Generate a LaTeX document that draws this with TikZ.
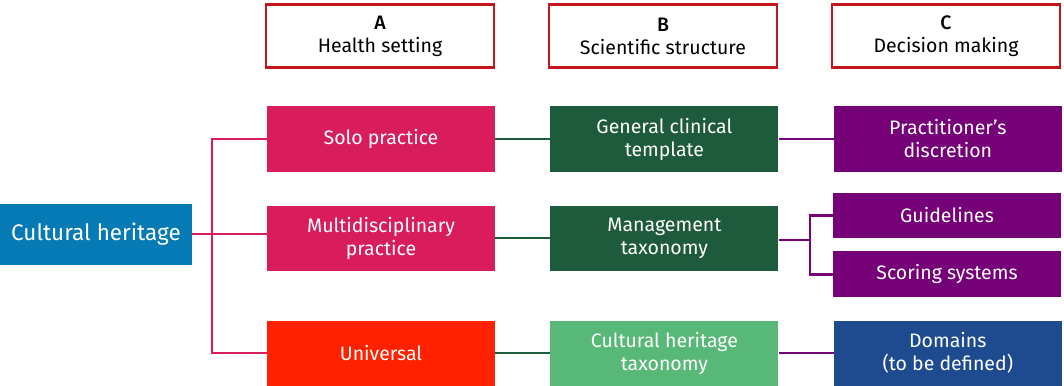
\documentclass[tikz,border=0pt]{standalone}
\usepackage{fontspec}
\setmainfont{Fira Sans}[BoldFont=* Medium]
\usepackage{tikz}
\usetikzlibrary{positioning, calc}
\usepackage{xcolor}
\definecolor{hdred}{HTML}{C4161C}
\definecolor{heritageblue}{HTML}{067AB4}
\definecolor{settingpink}{HTML}{D91C5C}
\definecolor{universalred}{HTML}{FF2100}
\definecolor{structgreen}{HTML}{1E5A3C}
\definecolor{lightgreen}{HTML}{57B877}
\definecolor{decpurple}{HTML}{750078}
\definecolor{domainblue}{HTML}{1E4B8F}

\begin{document}
\begin{tikzpicture}[x=1pt, y=-1pt, node distance=55pt and 55pt,
  every node/.style={
    rectangle, align=center, inner sep=0pt,
    minimum width=228pt, minimum height=65pt, text=white,
    font=\fontsize{19.5}{23}\selectfont
  },
  headbox/.style={draw=hdred, line width=2.5pt, fill=white, text=black,
    minimum width=228pt, minimum height=63pt},
  pinkbox/.style={fill=settingpink},
  greenbox/.style={fill=structgreen},
  purplebox/.style={fill=decpurple},
  pinkline/.style={draw=settingpink, line width=2.5pt},
  greenline/.style={draw=structgreen, line width=2.5pt},
  purpleline/.style={draw=decpurple, line width=2.5pt}]
\useasboundingbox (0,0) rectangle (1064,385);
% column headers
\node[headbox] (hA) at (380,36) {\textbf{A}\\Health setting};
\node[headbox] (hB) at (663,36) {\textbf{B}\\Scientific structure};
\node[headbox] (hC) at (946,36) {\textbf{C}\\Decision making};
% root
\node[fill=heritageblue, minimum width=192pt, minimum height=61pt,
  font=\fontsize{22.5}{27}\selectfont] (heritage) at (96,234) {Cultural heritage};
% health setting
\node[pinkbox] (solo) at (381,139) {Solo practice};
\node[pinkbox] (multi) at (381,238) {Multidisciplinary\\practice};
\node[fill=universalred] (universal) at (381,353) {Universal};
% scientific structure
\node[greenbox, right=of solo] (general) {General clinical\\template};
\node[greenbox, right=of multi] (management) {Management\\taxonomy};
\node[fill=lightgreen, right=of universal] (taxonomy) {Cultural heritage\\taxonomy};
% decision making
\node[purplebox, right=of general] (discretion) {Practitioner’s\\discretion};
\node[purplebox, minimum height=45pt] (guidelines) at (947,215.5) {Guidelines};
\node[purplebox, minimum height=46pt, below=13pt of guidelines] (scoring) {Scoring systems};
\node[fill=domainblue, right=of taxonomy] (domains) {Domains\\(to be defined)};
% connectors
\coordinate (forkA) at (212,234);
\coordinate (forkC) at (810,240);
\draw[pinkline] (heritage.east) -- (heritage.east -| multi.west);
\draw[pinkline] (solo.west) -| (forkA) |- (universal.west);
\draw[greenline] (solo) -- (general);
\draw[greenline] (multi) -- (management);
\draw[greenline] (universal) -- (taxonomy);
\draw[purpleline] (general) -- (discretion);
\draw[purpleline] (taxonomy) -- (domains);
\draw[purpleline] (management.east |- forkC) -- (forkC);
\draw[purpleline] (guidelines.west) -| (forkC) |- (scoring.west);
\end{tikzpicture}
\end{document}
